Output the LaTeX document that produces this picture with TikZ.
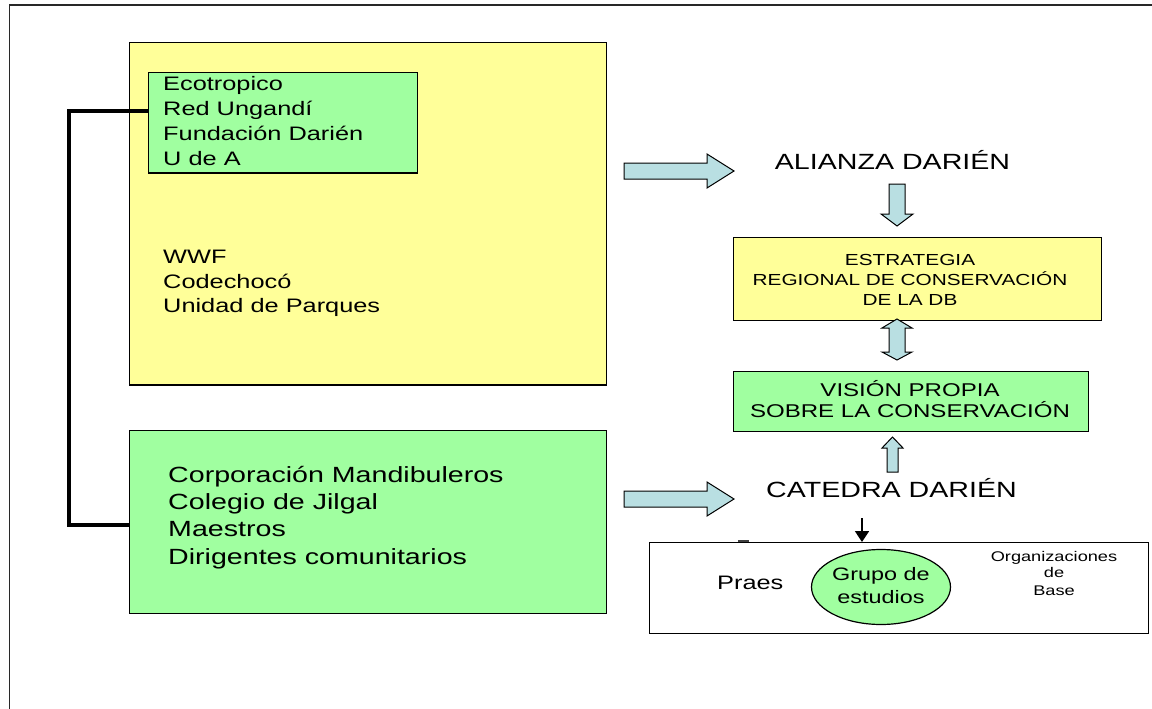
\documentclass[tikz,border=0pt]{standalone}
\usepackage{fontspec}
\setmainfont{Liberation Sans}[FakeStretch=1.3]
\usetikzlibrary{shapes.geometric,arrows.meta}
\definecolor{boxyellow}{RGB}{255,255,153}
\definecolor{boxgreen}{RGB}{160,255,160}
\definecolor{arrowblue}{RGB}{185,223,226}
\definecolor{framegray}{RGB}{40,40,40}
\tikzset{
  box/.style={draw=black, line width=1.2pt, inner sep=0pt, anchor=north west},
  lbl/.style={inner sep=0pt, anchor=base west},
  clbl/.style={inner sep=0pt, anchor=base},
  blockarrow/.style={draw=black, line width=1pt, fill=arrowblue, line join=miter},
  linkline/.style={draw=black, line width=4pt, line join=miter},
  fa/.style={font=\fontsize{19.5}{24}\selectfont},
  fb/.style={font=\fontsize{22}{27}\selectfont},
  fc/.style={font=\fontsize{16}{20}\selectfont},
  fd/.style={font=\fontsize{18.5}{22}\selectfont},
  fe/.style={font=\fontsize{18}{22}\selectfont},
  ff/.style={font=\fontsize{14}{17}\selectfont},
}
\begin{document}
\begin{tikzpicture}[x=1pt,y=-1pt]
\useasboundingbox (0,0) rectangle (1152,709);
\fill[white] (0,0) rectangle (1152,709);
% outer frame (only top and left edges visible)
\draw[framegray, line width=1.6pt] (9.5,720) -- (9.5,5) -- (1160,5);

% left boxes
\node[box, fill=boxyellow, minimum width=477pt, minimum height=342pt] (yellowbox) at (128.5,42.3) {};
\node[box, fill=boxgreen, minimum width=269pt, minimum height=100pt] (ecobox) at (148,72.3) {};
\node[box, fill=boxgreen, minimum width=477pt, minimum height=183pt] (greenbox) at (128.5,430) {};

\node[lbl, fa] (t1) at (163,91) {Ecotropico};
\node[lbl, fa] (t2) at (163,115.7) {Red Ungandí};
\node[lbl, fa] (t3) at (163,140.4) {Fundación Darién};
\node[lbl, fa] (t4) at (163,165) {U de A};
\node[lbl, fa] (t5) at (163,263.3) {WWF};
\node[lbl, fa] (t6) at (163,288) {Codechocó};
\node[lbl, fa] (t7) at (163,312.7) {Unidad de Parques};

\node[lbl, fb] (g1) at (168,482) {Corporación Mandibuleros};
\node[lbl, fb] (g2) at (168,509.3) {Colegio de Jilgal};
\node[lbl, fb] (g3) at (168,536.6) {Maestros};
\node[lbl, fb] (g4) at (168,564) {Dirigentes comunitarios};

% thick connector
\coordinate (ja) at (148,111);
\coordinate (jb) at (128.5,525);
\draw[linkline] (ja) -- (69,111) -- (69,525) -- (jb);

% right column
\node[clbl, fb] (alianza) at (892.5,169) {ALIANZA DARIÉN};
\node[box, fill=boxyellow, minimum width=368pt, minimum height=83pt] (estrbox) at (733,237) {};
\node[clbl, fc] (e1) at (910,265) {ESTRATEGIA};
\node[clbl, fc] (e2) at (910,285) {REGIONAL DE CONSERVACIÓN};
\node[clbl, fc] (e3) at (910,305) {DE LA DB};
\node[box, fill=boxgreen, minimum width=355pt, minimum height=60pt] (visionbox) at (733,371) {};
\node[clbl, fd] (v1) at (910,396) {VISIÓN PROPIA};
\node[clbl, fd] (v2) at (910,417) {SOBRE LA CONSERVACIÓN};
\node[clbl, fb] (catedra) at (891.5,497) {CATEDRA DARIÉN};

% bottom white box
\node[box, fill=white, minimum width=499pt, minimum height=91pt] (basebox) at (649,542) {};
\draw[black!75, line width=1.8pt] (738,541.2) -- (749,541.2);
\node[lbl, fa] (praes) at (717,589.5) {Praes};
\node[ellipse, draw=black, line width=1.2pt, fill=boxgreen, minimum width=139pt, minimum height=75pt, inner sep=0pt] (grupo) at (881,587) {};
\node[clbl, fe] (gr1) at (881,580.5) {Grupo de};
\node[clbl, fe] (gr2) at (881,603) {estudios};
\node[clbl, ff] (o1) at (1054,561) {Organizaciones};
\node[clbl, ff] (o2) at (1054,577) {de};
\node[clbl, ff] (o3) at (1054,595) {Base};

% block arrows
\draw[blockarrow] (624,163) -- (707,163) -- (707,154) -- (734,171) -- (707,188) -- (707,179) -- (624,179) -- cycle;
\draw[blockarrow] (624,491) -- (707,491) -- (707,482) -- (734,499) -- (707,516) -- (707,507) -- (624,507) -- cycle;
\draw[blockarrow] (889,184) -- (905,184) -- (905,214) -- (913,214) -- (897,226) -- (881,214) -- (889,214) -- cycle;
\draw[blockarrow] (897,319) -- (912,328) -- (905,328) -- (905,352) -- (912,352) -- (897,360) -- (882,352) -- (889,352) -- (889,328) -- (882,328) -- cycle;
\draw[blockarrow] (892.5,437) -- (903,448) -- (898,448) -- (898,472) -- (887,472) -- (887,448) -- (882,448) -- cycle;

% small black arrow
\coordinate (cs) at (862,518);
\draw[line width=1.8pt, -{Triangle[width=14pt,length=11pt]}] (cs) -- (cs |- basebox.north);
\end{tikzpicture}
\end{document}
